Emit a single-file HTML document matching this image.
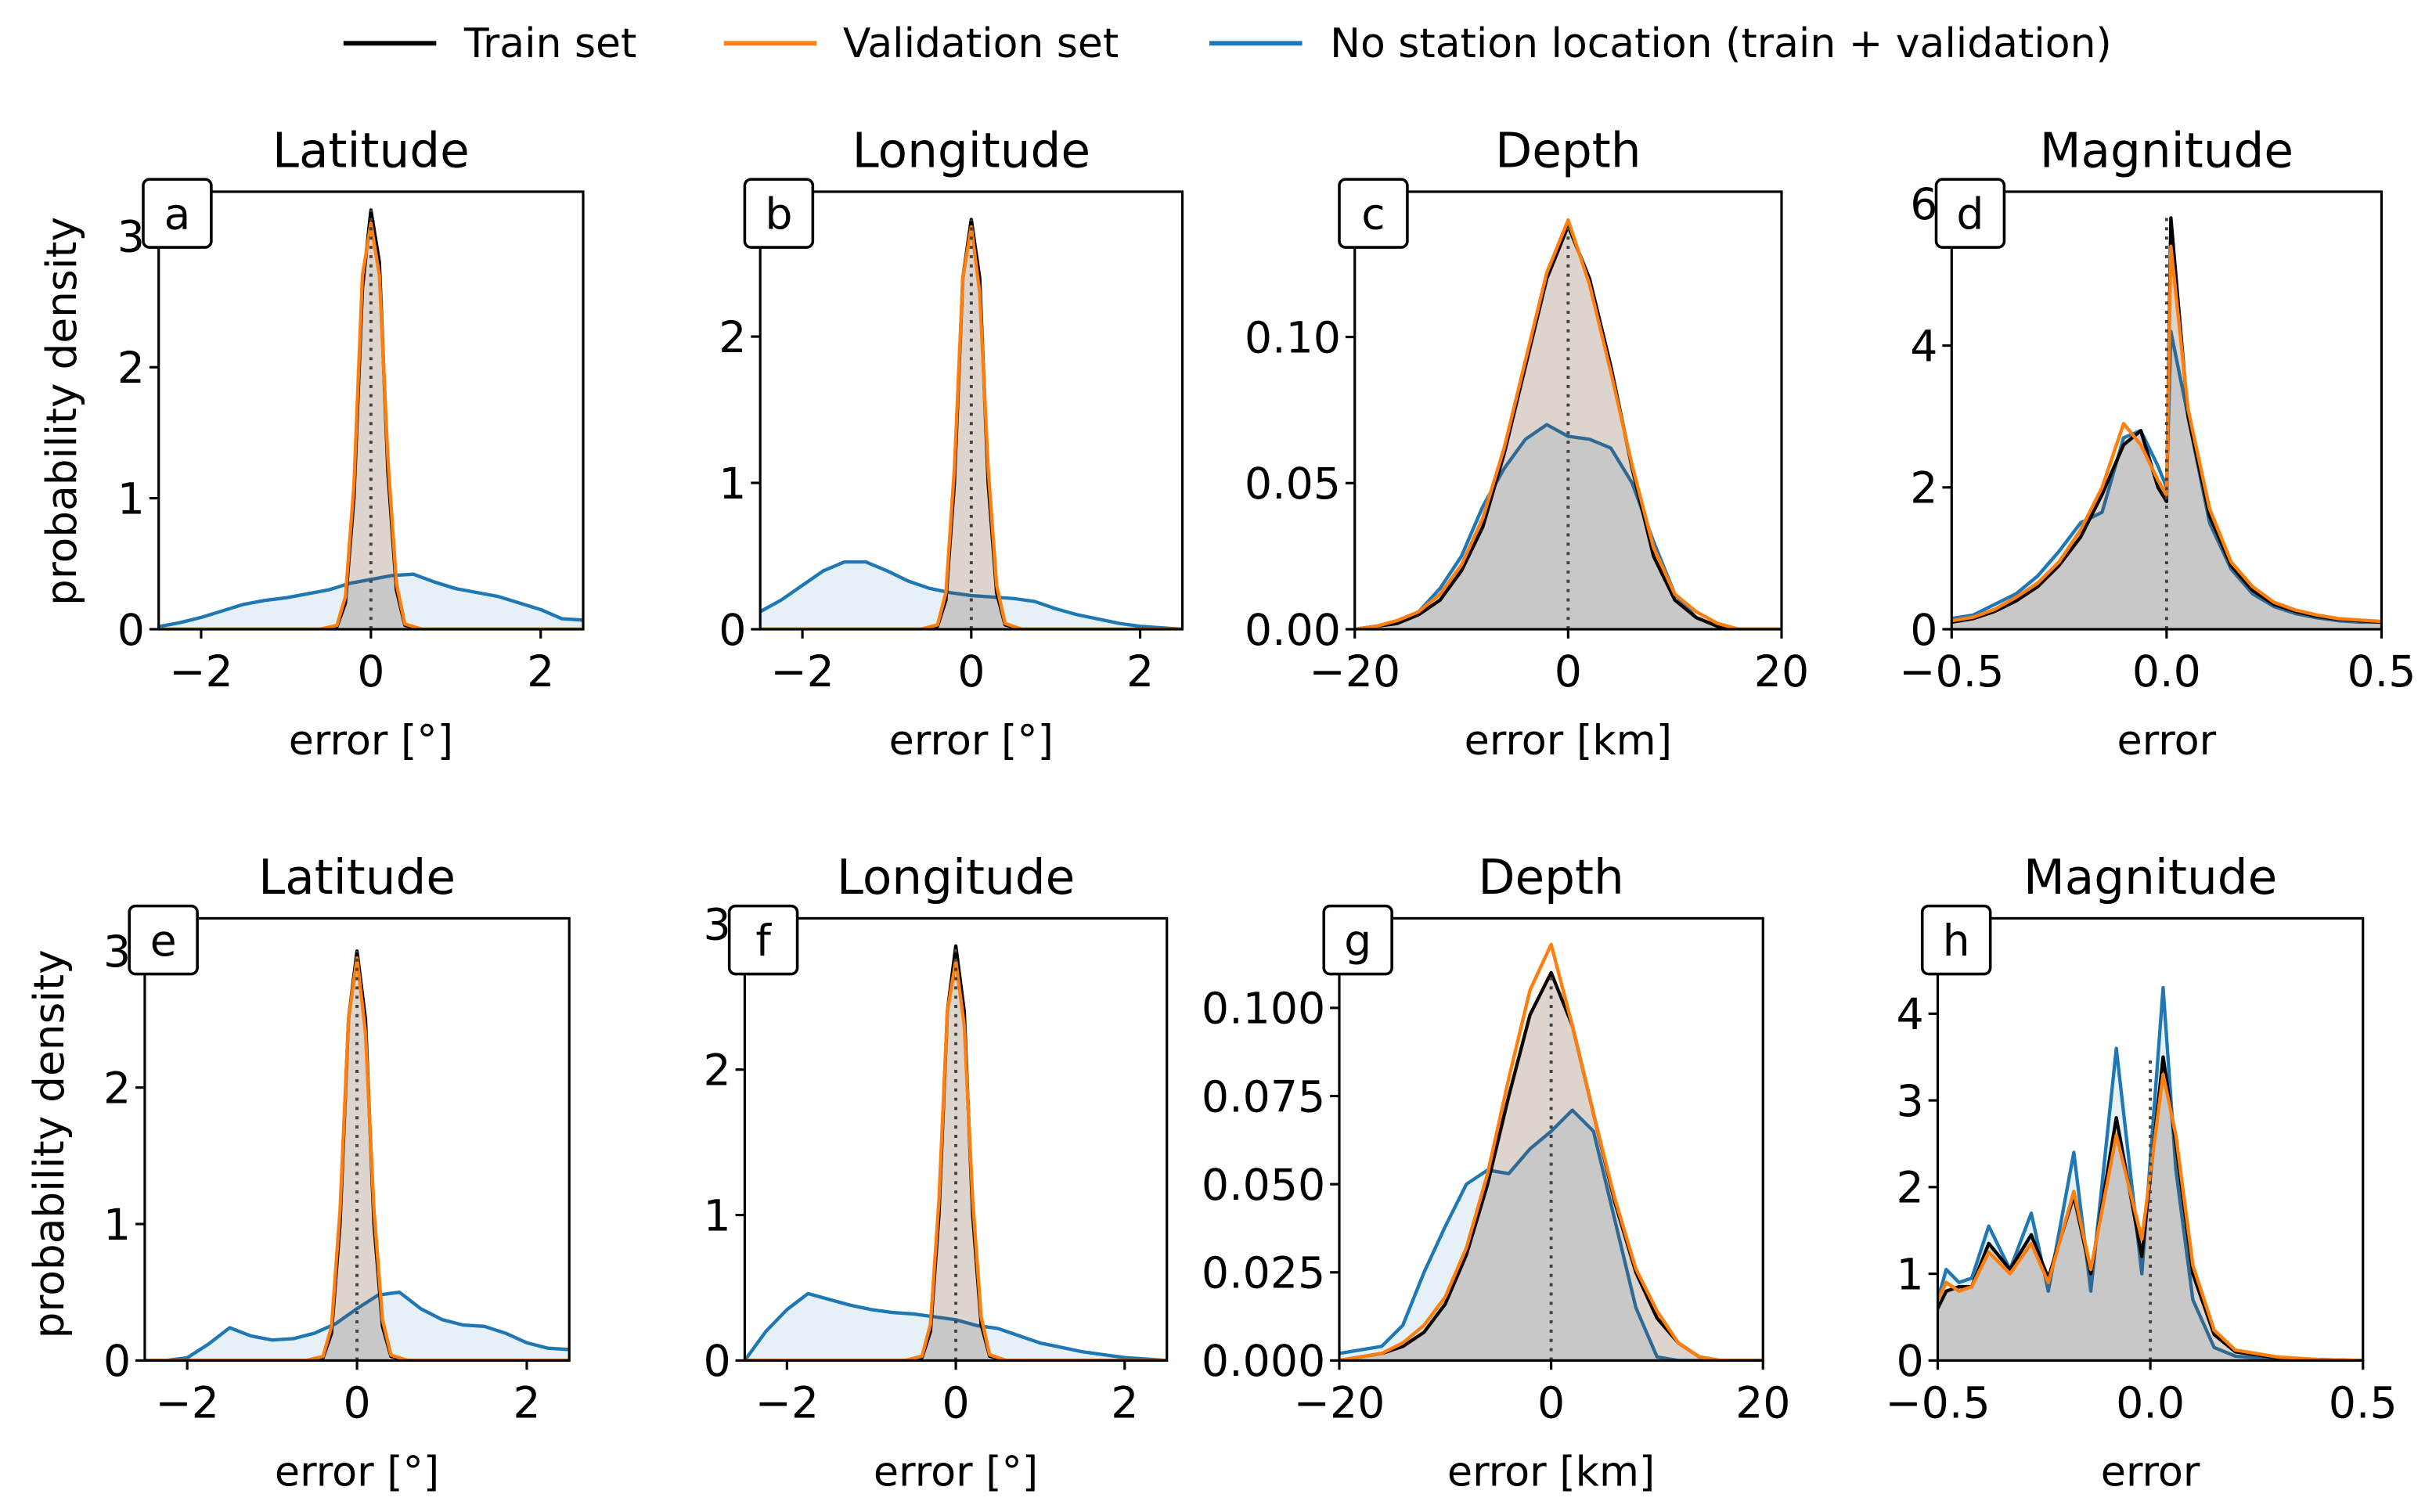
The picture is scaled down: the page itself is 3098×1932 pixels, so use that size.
<!DOCTYPE html>
<html><head><meta charset="utf-8">
<style>
html,body{margin:0;padding:0;background:#fff;}
svg{display:block;font-family:"DejaVu Sans","Liberation Sans",sans-serif;}
</style></head>
<body>
<svg id="fig" width="3098" height="1932" viewBox="0 0 1568 978" xmlns="http://www.w3.org/2000/svg">
<g>
<line x1="222" y1="28" x2="282" y2="28" stroke="#000" stroke-width="3"/>
<text x="300" y="37" font-size="26.3">Train set</text>
<line x1="468" y1="28" x2="528" y2="28" stroke="#ff7f0e" stroke-width="3"/>
<text x="545" y="37" font-size="26.3">Validation set</text>
<line x1="782" y1="28" x2="842" y2="28" stroke="#1f77b4" stroke-width="3"/>
<text x="860" y="37" font-size="26.3">No station location (train + validation)</text>
</g>
<text transform="translate(49,266) rotate(-90)" text-anchor="middle" font-size="27">probability density</text>
<text transform="translate(41,740) rotate(-90)" text-anchor="middle" font-size="27">probability density</text>
</svg>
<script>
// ---- data ----
const pk_x = [-2.5,-0.6,-0.4,-0.3,-0.2,-0.1,0,0.1,0.2,0.3,0.4,0.6,2.5];
const latA_train = [0,0,0.02,0.2,1.0,2.6,3.2,2.8,1.2,0.3,0.03,0,0];
const latA_val = [0,0,0.03,0.25,1.1,2.7,3.1,2.7,1.3,0.35,0.04,0,0];
const latA_blue_x = [-2.5,-2.25,-2,-1.75,-1.5,-1.25,-1,-0.75,-0.5,-0.25,0,0.25,0.5,0.75,1,1.25,1.5,1.75,2,2.25,2.5];
const latA_blue = [0.02,0.05,0.09,0.14,0.19,0.22,0.24,0.27,0.3,0.35,0.38,0.41,0.42,0.36,0.31,0.28,0.25,0.2,0.15,0.08,0.07];
const lonB_train = [0,0,0.02,0.2,1.0,2.4,2.8,2.4,1.0,0.25,0.03,0,0];
const lonB_val = [0,0,0.03,0.25,1.1,2.4,2.75,2.3,1.1,0.3,0.04,0,0];
const lonB_blue = [0.12,0.2,0.3,0.4,0.46,0.46,0.4,0.33,0.28,0.25,0.23,0.22,0.21,0.19,0.14,0.1,0.07,0.04,0.02,0.01,0];
const dep_x = [-20,-18,-16,-14,-12,-10,-8,-6,-4,-2,0,2,4,6,8,10,12,14,16,18,20];
const depC_train = [0,0.001,0.002,0.005,0.01,0.02,0.035,0.06,0.09,0.12,0.138,0.12,0.09,0.055,0.025,0.01,0.004,0.001,0,0,0];
const depC_val = [0,0.001,0.003,0.006,0.012,0.022,0.038,0.062,0.092,0.122,0.14,0.118,0.088,0.056,0.028,0.012,0.006,0.002,0,0,0];
const depC_blue = [0,0.001,0.002,0.006,0.014,0.025,0.042,0.055,0.065,0.07,0.066,0.065,0.062,0.05,0.03,0.012,0.004,0.001,0,0,0];
const magD_x = [-0.5,-0.45,-0.4,-0.35,-0.3,-0.25,-0.2,-0.15,-0.1,-0.06,-0.02,0,0.01,0.05,0.1,0.15,0.2,0.25,0.3,0.35,0.4,0.45,0.5];
const magD_train = [0.1,0.15,0.25,0.4,0.6,0.9,1.3,1.9,2.6,2.8,2.0,1.8,5.8,3.0,1.6,0.9,0.55,0.35,0.25,0.18,0.14,0.12,0.1];
const magD_val = [0.12,0.17,0.28,0.45,0.65,0.95,1.4,2.0,2.9,2.6,2.1,1.9,5.4,3.1,1.7,0.95,0.6,0.38,0.27,0.2,0.15,0.13,0.11];
const magD_blue = [0.15,0.2,0.35,0.5,0.75,1.1,1.5,1.65,2.7,2.8,2.3,2.0,4.2,3.0,1.5,0.85,0.5,0.32,0.22,0.16,0.12,0.1,0.1];
const latE_train = [0,0,0.02,0.2,1.0,2.5,3.0,2.5,1.0,0.25,0.03,0,0];
const latE_val = [0,0,0.03,0.25,1.1,2.5,2.95,2.4,1.1,0.3,0.04,0,0];
const latE_blue = [0,0,0.02,0.12,0.24,0.18,0.15,0.16,0.2,0.27,0.38,0.48,0.5,0.38,0.3,0.26,0.25,0.2,0.13,0.09,0.08];
const lonF_train = [0,0,0.02,0.2,1.0,2.4,2.85,2.4,1.0,0.25,0.03,0,0];
const lonF_val = [0,0,0.03,0.25,1.1,2.4,2.75,2.3,1.1,0.3,0.04,0,0];
const lonF_blue = [0,0.2,0.35,0.46,0.42,0.38,0.35,0.33,0.32,0.3,0.28,0.24,0.22,0.17,0.12,0.09,0.06,0.04,0.02,0.01,0];
const depG_train = [0,0.001,0.002,0.004,0.008,0.016,0.03,0.05,0.075,0.098,0.11,0.095,0.07,0.045,0.025,0.012,0.005,0.001,0,0,0];
const depG_val = [0,0.001,0.002,0.005,0.01,0.018,0.032,0.053,0.08,0.105,0.118,0.095,0.07,0.046,0.026,0.014,0.005,0.001,0,0,0];
const depG_blue = [0.002,0.003,0.004,0.01,0.025,0.038,0.05,0.054,0.053,0.06,0.065,0.071,0.065,0.04,0.015,0.001,0,0,0,0,0];
const magH_x = [-0.5,-0.48,-0.45,-0.42,-0.38,-0.33,-0.28,-0.24,-0.18,-0.14,-0.08,-0.02,0.03,0.06,0.1,0.15,0.2,0.3,0.4,0.5];
const magH_train = [0.6,0.8,0.85,0.85,1.35,1.05,1.45,0.95,1.9,1.0,2.8,1.2,3.5,2.5,1.0,0.3,0.1,0.03,0.01,0];
const magH_val = [0.7,0.9,0.8,0.85,1.25,1.0,1.35,0.9,1.95,1.05,2.6,1.4,3.3,2.6,1.1,0.35,0.12,0.04,0.01,0];
const magH_blue = [0.7,1.05,0.9,0.95,1.55,1.05,1.7,0.8,2.4,0.8,3.6,1.0,4.3,2.2,0.7,0.15,0.05,0.01,0,0];

const panels = [
 {id:'a',title:'Latitude',xl:'error [°]',L:102.5,R:377,T:124,B:407,x0:-2.5,x1:2.5,y1:3.34,xt:[-2,0,2],xtl:['−2','0','2'],yt:[0,1,2,3],ytl:['0','1','2','3'],tx:pk_x,tr:latA_train,va:latA_val,bx:latA_blue_x,bl:latA_blue},
 {id:'b',title:'Longitude',xl:'error [°]',L:491.5,R:764.5,T:124,B:407,x0:-2.5,x1:2.5,y1:2.99,xt:[-2,0,2],xtl:['−2','0','2'],yt:[0,1,2],ytl:['0','1','2'],tx:pk_x,tr:lonB_train,va:lonB_val,bx:latA_blue_x,bl:lonB_blue},
 {id:'c',title:'Depth',xl:'error [km]',L:876,R:1152,T:124,B:407,x0:-20,x1:20,y1:0.1497,xt:[-20,0,20],xtl:['−20','0','20'],yt:[0,0.05,0.10],ytl:['0.00','0.05','0.10'],tx:dep_x,tr:depC_train,va:depC_val,bx:dep_x,bl:depC_blue},
 {id:'d',title:'Magnitude',xl:'error',L:1262,R:1540,T:124,B:407,x0:-0.5,x1:0.5,y1:6.17,xt:[-0.5,0,0.5],xtl:['−0.5','0.0','0.5'],yt:[0,2,4,6],ytl:['0','2','4','6'],tx:magD_x,tr:magD_train,va:magD_val,bx:magD_x,bl:magD_blue},
 {id:'e',title:'Latitude',xl:'error [°]',L:93.5,R:368,T:594,B:880,x0:-2.5,x1:2.5,y1:3.24,xt:[-2,0,2],xtl:['−2','0','2'],yt:[0,1,2,3],ytl:['0','1','2','3'],tx:pk_x,tr:latE_train,va:latE_val,bx:latA_blue_x,bl:latE_blue},
 {id:'f',title:'Longitude',xl:'error [°]',L:481.5,R:754.5,T:594,B:880,x0:-2.5,x1:2.5,y1:3.04,xt:[-2,0,2],xtl:['−2','0','2'],yt:[0,1,2,3],ytl:['0','1','2','3'],tx:pk_x,tr:lonF_train,va:lonF_val,bx:latA_blue_x,bl:lonF_blue},
 {id:'g',title:'Depth',xl:'error [km]',L:866,R:1140,T:594,B:880,x0:-20,x1:20,y1:0.1254,xt:[-20,0,20],xtl:['−20','0','20'],yt:[0,0.025,0.05,0.075,0.1],ytl:['0.000','0.025','0.050','0.075','0.100'],tx:dep_x,tr:depG_train,va:depG_val,bx:dep_x,bl:depG_blue},
 {id:'h',title:'Magnitude',xl:'error',L:1253,R:1528,T:594,B:880,x0:-0.5,x1:0.5,y1:5.1,xt:[-0.5,0,0.5],xtl:['−0.5','0.0','0.5'],yt:[0,1,2,3,4],ytl:['0','1','2','3','4'],tx:magH_x,tr:magH_train,va:magH_val,bx:magH_x,bl:magH_blue}
];
const NS='http://www.w3.org/2000/svg';
const svg=document.getElementById('fig');
function mk(tag,attrs,parent){const e=document.createElementNS(NS,tag);for(const k in attrs)e.setAttribute(k,attrs[k]);(parent||svg).appendChild(e);return e;}
panels.forEach(p=>{
 const sx=v=>p.L+(v-p.x0)/(p.x1-p.x0)*(p.R-p.L);
 const sy=v=>p.B-v/p.y1*(p.B-p.T);
 const g=mk('g',{});
 
 
 const clipId='clip'+p.id;
 const cp=mk('clipPath',{id:clipId},g);mk('rect',{x:p.L,y:p.T,width:p.R-p.L,height:p.B-p.T},cp);
 const plot=mk('g',{'clip-path':'url(#'+clipId+')'},g);
 function series(xs,ys,col,fill,name){
  let d='';xs.forEach((x,i)=>{d+=(i?'L':'M')+sx(x).toFixed(2)+','+sy(ys[i]).toFixed(2);});
  const f=mk('path',{d:d+'L'+sx(xs[xs.length-1])+','+sy(0)+'L'+sx(xs[0])+','+sy(0)+'Z',fill:fill,stroke:'none'},plot);
  
  
  const l=mk('path',{d:d,fill:'none',stroke:col,'stroke-width':2.2,'stroke-linejoin':'round'},plot);
  
  
 }
 series(p.bx,p.bl,'#1f77b4','rgba(31,119,180,0.11)','nostation-'+p.id);
 series(p.tx,p.tr,'#000','rgba(60,50,45,0.18)','train-'+p.id);
 series(p.tx,p.va,'#ff7f0e','rgba(255,127,14,0.05)','validation-'+p.id);
 const z=mk('line',{x1:sx(0),x2:sx(0),y1:p.B,y2:sy(p.tr.reduce((a,b)=>Math.max(a,b))),stroke:'#444','stroke-width':2,'stroke-dasharray':'2,4'},plot);
 
 
 const fr=mk('rect',{x:p.L,y:p.T,width:p.R-p.L,height:p.B-p.T,fill:'none',stroke:'#000','stroke-width':1.6},g);
 
 
 p.xt.forEach((v,i)=>{
  mk('line',{x1:sx(v),x2:sx(v),y1:p.B,y2:p.B+6,stroke:'#000','stroke-width':1.6},g);
  const t=mk('text',{x:sx(v),y:p.B+37,'font-size':28,'text-anchor':'middle'},g);t.textContent=p.xtl[i];
  
  
 });
 p.yt.forEach((v,i)=>{
  mk('line',{x1:p.L,x2:p.L-6,y1:sy(v),y2:sy(v),stroke:'#000','stroke-width':1.6},g);
  const t=mk('text',{x:p.L-9,y:sy(v)+10,'font-size':28,'text-anchor':'end'},g);t.textContent=p.ytl[i];
  
  
 });
 const ti=mk('text',{x:(p.L+p.R)/2,y:p.T-16,'font-size':31,'text-anchor':'middle'},g);ti.textContent=p.title;
 
 
 const xl=mk('text',{x:(p.L+p.R)/2,y:p.B+81,'font-size':26.5,'text-anchor':'middle'},g);xl.textContent=p.xl;
 
 
 const bx=p.L-10,by=p.T-8;
 const lb=mk('rect',{x:bx,y:by,width:44,height:44,rx:4,fill:'#fff',stroke:'#000','stroke-width':1.8},g);
 
 
 const lt=mk('text',{x:bx+22,y:by+32,'font-size':28,'text-anchor':'middle'},g);lt.textContent=p.id;
 
 
});
</script>
</body></html>
